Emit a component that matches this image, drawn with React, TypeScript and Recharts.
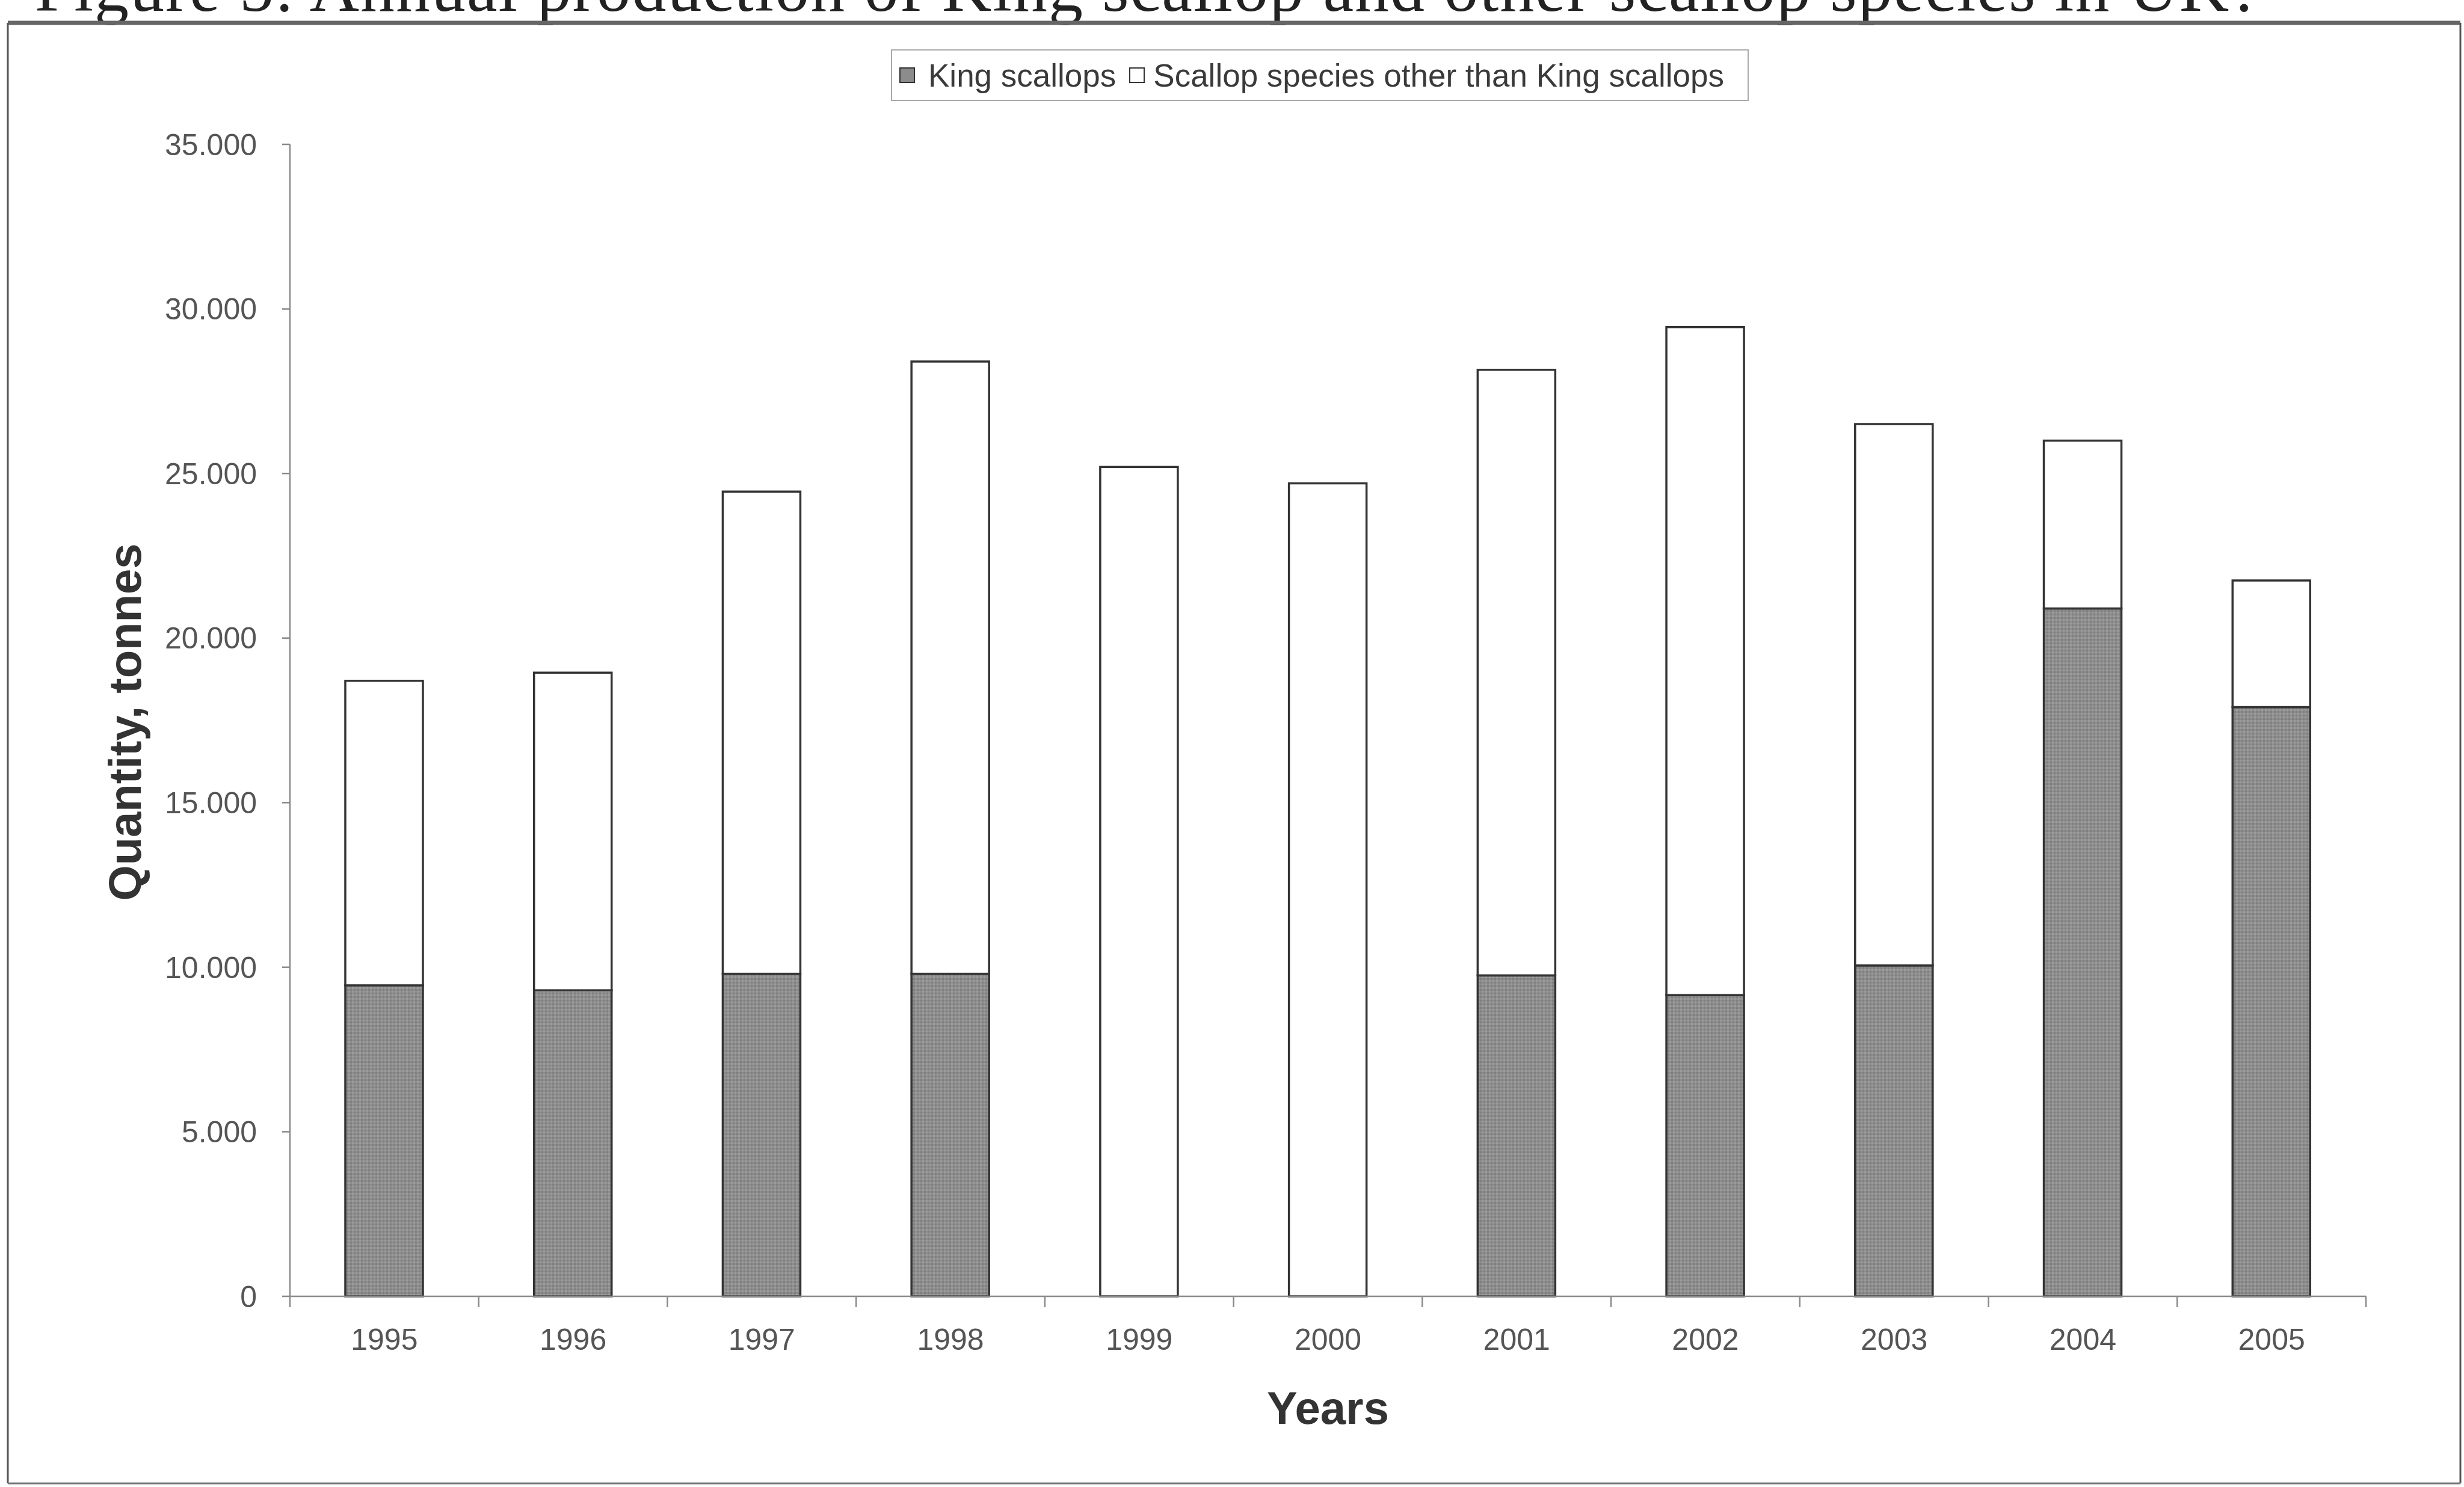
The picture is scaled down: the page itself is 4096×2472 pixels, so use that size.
import React from 'react';
import { BarChart, Bar, XAxis, YAxis, Legend, Label } from 'recharts';

const years = ['1995', '1996', '1997', '1998', '1999', '2000', '2001', '2002', '2003', '2004', '2005'];
const kingScallops = [9450, 9300, 9800, 9800, 0, 0, 9750, 9150, 10050, 20900, 17900];
const otherScallops = [9250, 9650, 14650, 18600, 25200, 24700, 18400, 20300, 16450, 5100, 3850];
const yTicks = [0, 5000, 10000, 15000, 20000, 25000, 30000, 35000];

const kingName = 'King scallops';
const otherName = 'Scallop species other than King scallops';

const data = years.map((year, i) => ({ year, king: kingScallops[i], other: otherScallops[i] }));

const W = 4096;
const H = 2472;
const SANS = '"Liberation Sans", Arial, sans-serif';
const SERIF = '"Liberation Serif", "Times New Roman", serif';
const AXIS_GRAY = '#8a8a8a';
const BAR_EDGE = '#333';
const KING_FILL = '#8c8c8c';
const X_TICK_GAP = 53;
const BAND = 3451 / 11;

// 35000 -> "35.000" (dot as thousands separator, like the source)
const formatTonnes = (v: number) => (v === 0 ? '0' : (v / 1000).toFixed(3));

// year label under the bar, tick marks sit between the categories
const YearTick = (props: any) => {
  const { x, y, payload, index } = props;
  const axisY = y - X_TICK_GAP;
  const half = payload?.offset || BAND / 2;
  const last = index === years.length - 1;
  return (
    <g>
      <line x1={x - half} x2={x - half} y1={axisY} y2={axisY + 18} stroke={AXIS_GRAY} strokeWidth={2.5} />
      {last && <line x1={x + half} x2={x + half} y1={axisY} y2={axisY + 18} stroke={AXIS_GRAY} strokeWidth={2.5} />}
      <text x={x} y={y} dy="0.71em" textAnchor="middle" fill="#555" fontSize={50} fontFamily={SANS}>
        {payload.value}
      </text>
    </g>
  );
};

const renderLegend = (props: any) => {
  const items = props.payload || [];
  return (
    <div
      style={{
        boxSizing: 'border-box',
        width: 1426,
        height: 86,
        border: '2px solid #aaa',
        background: '#fff',
        display: 'flex',
        alignItems: 'center',
        paddingLeft: 12,
        fontFamily: SANS,
        fontSize: 53,
        color: '#3a3a3a',
        whiteSpace: 'nowrap',
      }}
    >
      {items.map((item: any, i: number) => (
        <React.Fragment key={item.value}>
          <span
            style={{
              display: 'inline-block',
              width: 26,
              height: 26,
              boxSizing: 'border-box',
              border: `2px solid ${BAR_EDGE}`,
              background: item.dataKey === 'king' ? KING_FILL : '#fff',
              marginRight: i === 0 ? 22 : 14,
            }}
          />
          <span style={{ marginRight: i === 0 ? 22 : 0 }}>{item.value}</span>
        </React.Fragment>
      ))}
    </div>
  );
};

const YTitle = (props: any) => {
  const vb = props.viewBox;
  const cx = vb.x + 207;
  const cy = vb.y + vb.height / 2 + 3;
  return (
    <text
      x={cx}
      y={cy}
      transform={`rotate(-90, ${cx}, ${cy})`}
      textAnchor="middle"
      dominantBaseline="central"
      fontFamily={SANS}
      fontWeight="bold"
      fontSize={76}
      fill="#333"
    >
      Quantity, tonnes
    </text>
  );
};

const XTitle = (props: any) => {
  const vb = props.viewBox;
  return (
    <text
      x={vb.x + vb.width / 2}
      y={vb.y + 212}
      textAnchor="middle"
      fontFamily={SANS}
      fontWeight="bold"
      fontSize={76}
      fill="#333"
    >
      Years
    </text>
  );
};

export default function App() {
  return (
    <div style={{ position: 'absolute', top: 0, left: 0, width: W, height: H, background: '#fff', overflow: 'hidden' }}>
      <BarChart width={W} height={H} data={data} margin={{ top: 240, right: 163, bottom: 77, left: 0 }}>
        <defs>
          <pattern id="stipple" width="6" height="6" patternUnits="userSpaceOnUse">
            <rect width="6" height="6" fill="#8e8e8e" />
            <rect x="0" y="0" width="3" height="3" fill="#7f7f7f" />
            <rect x="3" y="3" width="3" height="3" fill="#9b9b9b" />
          </pattern>
        </defs>
        <XAxis
          dataKey="year"
          height={240}
          interval={0}
          tickSize={0}
          tickMargin={X_TICK_GAP}
          tickLine={false}
          axisLine={{ stroke: AXIS_GRAY, strokeWidth: 2.5 }}
          tick={<YearTick />}
        >
          <Label content={<XTitle />} />
        </XAxis>
        <YAxis
          width={482}
          domain={[0, 35000]}
          ticks={yTicks}
          interval={0}
          tickSize={13}
          tickMargin={42}
          tickFormatter={formatTonnes}
          tickLine={{ stroke: AXIS_GRAY, strokeWidth: 2.5 }}
          axisLine={{ stroke: AXIS_GRAY, strokeWidth: 2.5 }}
          tick={{ fill: '#555', fontSize: 50, fontFamily: SANS }}
        >
          <Label content={<YTitle />} />
        </YAxis>
        <Legend
          layout="vertical"
          align="center"
          verticalAlign="middle"
          wrapperStyle={{ left: 1481, top: 82, width: 1426 }}
          content={renderLegend}
        />
        <Bar
          dataKey="king"
          name={kingName}
          stackId="a"
          barSize={129}
          fill="url(#stipple)"
          stroke={BAR_EDGE}
          strokeWidth={3.5}
          isAnimationActive={false}
        />
        <Bar
          dataKey="other"
          name={otherName}
          stackId="a"
          barSize={129}
          fill="#fff"
          stroke={BAR_EDGE}
          strokeWidth={3.5}
          isAnimationActive={false}
        />
      </BarChart>
      <svg width={W} height={H} style={{ position: 'absolute', top: 0, left: 0, pointerEvents: 'none' }}>
        <text x={58} y={18} fontFamily={SERIF} fontSize={114} fill="#222" textLength={3700} lengthAdjust="spacing">
          Figure 5: Annual production of King scallop and other scallop species in UK?
        </text>
        <line x1={13} x2={4090} y1={38} y2={38} stroke="#666" strokeWidth={7} />
        <line x1={13} x2={13} y1={38} y2={2466} stroke="#555" strokeWidth={3} />
        <line x1={4090} x2={4090} y1={38} y2={2466} stroke="#555" strokeWidth={3} />
        <line x1={13} x2={4090} y1={2466} y2={2466} stroke="#777" strokeWidth={3} />
      </svg>
    </div>
  );
}
